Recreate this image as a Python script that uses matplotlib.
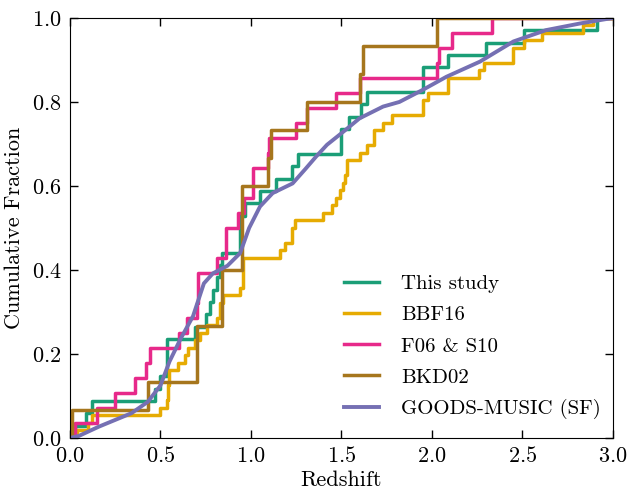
import numpy as np
import matplotlib
matplotlib.use("Agg")
import matplotlib.pyplot as plt

plt.rcParams["font.family"] = "serif"
plt.rcParams["font.serif"] = ["cmr10"]
plt.rcParams["mathtext.fontset"] = "cm"
plt.rcParams["axes.unicode_minus"] = False
plt.rcParams["axes.formatter.use_mathtext"] = True

# redshifts of each sample
z_this_study = [0.03, 0.087, 0.12, 0.47, 0.50, 0.535, 0.535, 0.535, 0.69,
                0.75, 0.775, 0.79, 0.81, 0.83, 0.84, 0.94, 0.94, 0.94,
                0.967, 1.05, 1.14, 1.225, 1.26, 1.50, 1.50, 1.54, 1.61,
                1.64, 1.95, 1.95, 2.09, 2.30, 2.51, 2.91]
z_bbf16 = [0.037, 0.10, 0.12, 0.497, 0.534, 0.54, 0.54, 0.545, 0.545,
           0.597, 0.635, 0.653, 0.69, 0.718, 0.755, 0.81, 0.828, 0.83,
           0.847, 0.939, 0.954, 0.954, 0.954, 0.954, 1.16, 1.19, 1.225,
           1.225, 1.243, 1.40, 1.445, 1.47, 1.49, 1.51, 1.52, 1.53, 1.53,
           1.60, 1.64, 1.68, 1.68, 1.73, 1.777, 1.95, 1.95, 1.98, 2.09,
           2.09, 2.26, 2.29, 2.45, 2.45, 2.51, 2.61, 2.835, 2.89]
z_f06_s10 = [0.03, 0.15, 0.25, 0.36, 0.42, 0.44, 0.60, 0.645, 0.70, 0.705,
             0.71, 0.81, 0.86, 0.86, 0.93, 0.96, 1.01, 1.01, 1.095, 1.10,
             1.25, 1.31, 1.47, 1.60, 2.03, 2.04, 2.11, 2.33]
z_bkd02 = [0.01, 0.43, 0.70, 0.70, 0.84, 0.84, 0.95, 0.95, 0.95, 1.095,
           1.11, 1.31, 1.60, 1.62, 2.03]

# GOODS-MUSIC (SF) cumulative curve, read as (redshift, fraction)
goods_z = [0.0, 0.05, 0.16, 0.34, 0.43, 0.50, 0.55, 0.61, 0.68, 0.74, 0.79,
           0.87, 0.94, 0.99, 1.05, 1.12, 1.23, 1.30, 1.36, 1.42, 1.51, 1.60,
           1.73, 1.82, 1.95, 2.08, 2.265, 2.45, 2.63, 2.82, 2.93, 3.0]
goods_frac = [0.0, 0.005, 0.027, 0.059, 0.086, 0.125, 0.182, 0.235, 0.29,
              0.368, 0.392, 0.41, 0.44, 0.50, 0.551, 0.583, 0.606, 0.64,
              0.67, 0.698, 0.729, 0.761, 0.789, 0.80, 0.829, 0.86, 0.896,
              0.944, 0.971, 0.987, 0.995, 1.0]

samples = [
    ("This study", z_this_study, "#1b9e77"),
    ("BBF16", z_bbf16, "#e6ab02"),
    ("F06 & S10", z_f06_s10, "#e7298a"),
    ("BKD02", z_bkd02, "#a6761d"),
]
goods_color = "#7570b3"


def ecdf(values, zmax=3.0):
    z = np.sort(np.asarray(values, dtype=float))
    frac = np.arange(1, len(z) + 1) / len(z)
    return np.concatenate([[0.0], z, [zmax]]), np.concatenate([[0.0], frac, [1.0]])


fig = plt.figure(figsize=(6.3, 4.93), dpi=100)
ax = fig.add_axes([0.111, 0.1116, 0.862, 0.852])

for label, values, color in samples:
    x, y = ecdf(values)
    ax.step(x, y, where="post", color=color, lw=2.5, label=label)

ax.plot(goods_z, goods_frac, color=goods_color, lw=2.8,
        label="GOODS-MUSIC (SF)")

ax.set_xlim(0, 3)
ax.set_ylim(0, 1)
ax.set_xticks(np.arange(0, 3.01, 0.5))
ax.set_yticks(np.arange(0, 1.01, 0.2))
ax.tick_params(direction="in", top=True, right=True, length=6, width=1,
               labelsize=16, pad=6)
ax.set_xlabel("Redshift", fontsize=16, labelpad=3)
ax.set_ylabel("Cumulative Fraction", fontsize=16, labelpad=6)

ax.legend(loc="lower left", bbox_to_anchor=(0.47, 0.0), frameon=False,
          fontsize=15, handlelength=1.7, labelspacing=0.6, handletextpad=1.05)

fig.savefig("out.png", dpi=100)
